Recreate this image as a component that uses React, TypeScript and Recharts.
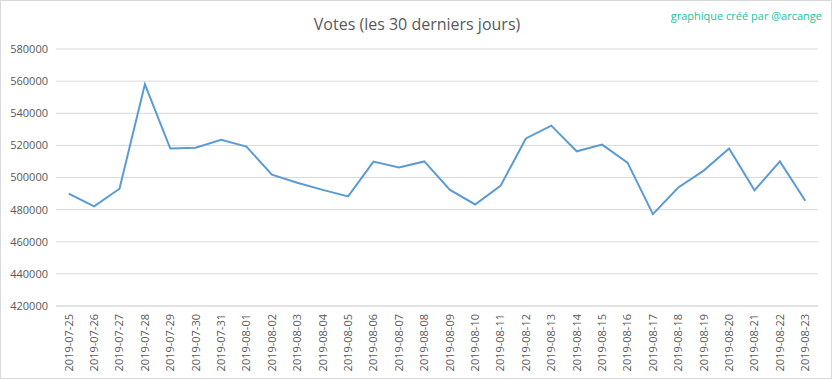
import React from "react";
import { LineChart, Line, XAxis, YAxis, CartesianGrid } from "recharts";

const dates = [
  "2019-07-25", "2019-07-26", "2019-07-27", "2019-07-28", "2019-07-29", "2019-07-30",
  "2019-07-31", "2019-08-01", "2019-08-02", "2019-08-03", "2019-08-04", "2019-08-05",
  "2019-08-06", "2019-08-07", "2019-08-08", "2019-08-09", "2019-08-10", "2019-08-11",
  "2019-08-12", "2019-08-13", "2019-08-14", "2019-08-15", "2019-08-16", "2019-08-17",
  "2019-08-18", "2019-08-19", "2019-08-20", "2019-08-21", "2019-08-22", "2019-08-23",
];

const votes = [
  490000, 482000, 493000, 558000, 518000, 518500,
  523500, 519200, 501800, 496700, 492300, 488200,
  509900, 506200, 510000, 492400, 483200, 494800,
  524300, 532300, 516300, 520500, 509300, 477200,
  493800, 504300, 518000, 492000, 510000, 485500,
];

const yTicks = [420000, 440000, 460000, 480000, 500000, 520000, 540000, 560000, 580000];

const data = dates.map((d, i) => ({ date: d, votes: votes[i] }));

const FONT = "'Open Sans', sans-serif";

const XTick = (props: any) => {
  const { x, y, payload } = props;
  return (
    <text
      x={x}
      y={y}
      transform={`rotate(-90, ${x}, ${y})`}
      textAnchor="end"
      dy="0.35em"
      fontSize={11}
      fontFamily={FONT}
      fill="#595959"
    >
      {payload.value}
    </text>
  );
};

export default function App() {
  return (
    <div
      style={{
        position: "absolute",
        left: 0,
        top: 0,
        width: 832,
        height: 379,
        boxSizing: "border-box",
        border: "1px solid #d9d9d9",
        background: "#fff",
      }}
    >
      <div
        style={{
          position: "absolute",
          left: 0,
          top: 12,
          width: 832,
          textAlign: "center",
          fontFamily: FONT,
          fontSize: 16,
          color: "#595959",
        }}
      >
        Votes (les 30 derniers jours)
      </div>
      <div
        style={{
          position: "absolute",
          right: 9,
          top: 7,
          fontFamily: FONT,
          fontSize: 11,
          color: "#1dbf9c",
        }}
      >
        graphique créé par @arcange
      </div>
      <div style={{ position: "absolute", left: -1, top: -1 }}>
        <LineChart
          width={832}
          height={379}
          data={data}
          margin={{ top: 49, right: 14, bottom: 8, left: 0 }}
        >
          <CartesianGrid vertical={false} stroke="#d9d9d9" strokeWidth={1} />
          <XAxis
            dataKey="date"
            interval={0}
            tick={<XTick />}
            tickLine={false}
            axisLine={{ stroke: "#d9d9d9" }}
            height={65}
            padding={{ left: 12.7, right: 12.7 }}
          />
          <YAxis
            width={56}
            domain={[420000, 580000]}
            ticks={yTicks}
            tickLine={false}
            axisLine={false}
            tick={{ fontSize: 11, fontFamily: FONT, fill: "#595959" }}
          />
          <Line
            type="linear"
            dataKey="votes"
            stroke="#5b9bd5"
            strokeWidth={2}
            dot={false}
            isAnimationActive={false}
          />
        </LineChart>
      </div>
    </div>
  );
}
